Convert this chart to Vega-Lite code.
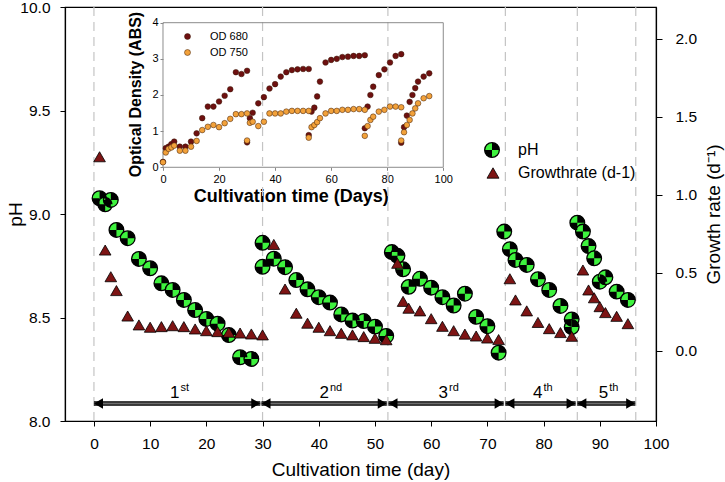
{
  "$schema": "https://vega.github.io/schema/vega-lite/v6.json",
  "width": 591,
  "height": 414,
  "autosize": "none",
  "padding": {"left": 65, "top": 7, "right": 69, "bottom": 61},
  "background": "white",
  "config": {
    "font": "Liberation Sans",
    "view": {"stroke": "#000", "strokeWidth": 1.2},
    "axis": {"grid": false, "domainColor": "#000", "tickColor": "#000", "labelColor": "#000", "titleColor": "#000", "labelFont": "Liberation Sans", "titleFont": "Liberation Sans", "titleFontWeight": "normal", "labelFlush": false, "labelOverlap": false},
    "legend": {"labelFont": "Liberation Sans", "labelColor": "#000", "padding": 0}
  },
  "datasets": {
    "vlines": [{"day": 0}, {"day": 30}, {"day": 52.3}, {"day": 73.2}, {"day": 86}, {"day": 96.4}],
    "arrows": [{"start": 0, "end": 29.6}, {"start": 29.8, "end": 52.1}, {"start": 52.4, "end": 72.9}, {"start": 73.2, "end": 85.7}, {"start": 86, "end": 96.3}],
    "labels": [{"x": 15.2, "n": "1", "sup": "st"}, {"x": 41.8, "n": "2", "sup": "nd"}, {"x": 63, "n": "3", "sup": "rd"}, {"x": 79.8, "n": "4", "sup": "th"}, {"x": 91.5, "n": "5", "sup": "th"}],
    "ph": [
      {"day": 1, "ph": 9.076}, {"day": 2, "ph": 9.047}, {"day": 3, "ph": 9.068}, {"day": 4, "ph": 8.923}, {"day": 6, "ph": 8.883}, {"day": 8, "ph": 8.783}, {"day": 10, "ph": 8.738}, {"day": 12, "ph": 8.665}, {"day": 14, "ph": 8.633}, {"day": 16, "ph": 8.585}, {"day": 18, "ph": 8.536}, {"day": 20, "ph": 8.493}, {"day": 22, "ph": 8.47}, {"day": 24, "ph": 8.415}, {"day": 26, "ph": 8.308}, {"day": 28, "ph": 8.3},
      {"day": 30, "ph": 8.861}, {"day": 30, "ph": 8.745}, {"day": 32, "ph": 8.784}, {"day": 34, "ph": 8.743}, {"day": 36, "ph": 8.681}, {"day": 38, "ph": 8.636}, {"day": 40, "ph": 8.598}, {"day": 42, "ph": 8.572}, {"day": 44, "ph": 8.515}, {"day": 46, "ph": 8.485}, {"day": 48, "ph": 8.483}, {"day": 50, "ph": 8.456}, {"day": 52, "ph": 8.411},
      {"day": 53, "ph": 8.816}, {"day": 54, "ph": 8.798}, {"day": 55, "ph": 8.733}, {"day": 56, "ph": 8.648}, {"day": 58, "ph": 8.687}, {"day": 60, "ph": 8.644}, {"day": 62, "ph": 8.598}, {"day": 64, "ph": 8.558}, {"day": 66, "ph": 8.615}, {"day": 68, "ph": 8.503}, {"day": 70, "ph": 8.458}, {"day": 72, "ph": 8.33},
      {"day": 73, "ph": 8.915}, {"day": 74, "ph": 8.83}, {"day": 75, "ph": 8.778}, {"day": 77, "ph": 8.754}, {"day": 79, "ph": 8.685}, {"day": 81, "ph": 8.633}, {"day": 83, "ph": 8.556}, {"day": 85, "ph": 8.491}, {"day": 85, "ph": 8.454},
      {"day": 86, "ph": 8.958}, {"day": 87, "ph": 8.915}, {"day": 88, "ph": 8.845}, {"day": 89, "ph": 8.786}, {"day": 90, "ph": 8.673}, {"day": 91, "ph": 8.694}, {"day": 93, "ph": 8.625}, {"day": 95, "ph": 8.585}
    ],
    "growth": [
      {"day": 1, "g": 1.245}, {"day": 2, "g": 0.647}, {"day": 3, "g": 0.476}, {"day": 4, "g": 0.387}, {"day": 6, "g": 0.224}, {"day": 8, "g": 0.167}, {"day": 10, "g": 0.152}, {"day": 12, "g": 0.156}, {"day": 14, "g": 0.162}, {"day": 16, "g": 0.156}, {"day": 18, "g": 0.141}, {"day": 20, "g": 0.13}, {"day": 22, "g": 0.124}, {"day": 24, "g": 0.12}, {"day": 26, "g": 0.115}, {"day": 28, "g": 0.109}, {"day": 30, "g": 0.103},
      {"day": 32, "g": 0.683}, {"day": 34, "g": 0.397}, {"day": 36, "g": 0.242}, {"day": 38, "g": 0.178}, {"day": 40, "g": 0.152}, {"day": 42, "g": 0.13}, {"day": 44, "g": 0.113}, {"day": 46, "g": 0.103}, {"day": 48, "g": 0.092}, {"day": 50, "g": 0.081}, {"day": 52, "g": 0.072},
      {"day": 54, "g": 0.562}, {"day": 55, "g": 0.318}, {"day": 56, "g": 0.274}, {"day": 58, "g": 0.257}, {"day": 60, "g": 0.207}, {"day": 62, "g": 0.158}, {"day": 64, "g": 0.13}, {"day": 66, "g": 0.108}, {"day": 68, "g": 0.096}, {"day": 70, "g": 0.083}, {"day": 72, "g": 0.073},
      {"day": 74, "g": 0.463}, {"day": 75, "g": 0.327}, {"day": 77, "g": 0.257}, {"day": 79, "g": 0.183}, {"day": 81, "g": 0.143}, {"day": 83, "g": 0.118}, {"day": 85, "g": 0.094},
      {"day": 87, "g": 0.519}, {"day": 88, "g": 0.391}, {"day": 89, "g": 0.341}, {"day": 90, "g": 0.284}, {"day": 91, "g": 0.246}, {"day": 93, "g": 0.222}, {"day": 95, "g": 0.175}
    ],
    "od": [
      {"day": 0, "od": 0.15, "s": "OD 680"}, {"day": 1, "od": 0.53, "s": "OD 680"}, {"day": 2, "od": 0.57, "s": "OD 680"}, {"day": 3, "od": 0.64, "s": "OD 680"}, {"day": 4, "od": 0.71, "s": "OD 680"}, {"day": 6, "od": 0.57, "s": "OD 680"}, {"day": 8, "od": 0.57, "s": "OD 680"}, {"day": 10, "od": 0.71, "s": "OD 680"}, {"day": 12, "od": 0.94, "s": "OD 680"}, {"day": 14, "od": 1.36, "s": "OD 680"}, {"day": 16, "od": 1.68, "s": "OD 680"}, {"day": 18, "od": 1.68, "s": "OD 680"}, {"day": 20, "od": 1.82, "s": "OD 680"}, {"day": 22, "od": 1.98, "s": "OD 680"}, {"day": 24, "od": 2.16, "s": "OD 680"}, {"day": 26, "od": 2.63, "s": "OD 680"}, {"day": 28, "od": 2.58, "s": "OD 680"}, {"day": 30, "od": 2.67, "s": "OD 680"},
      {"day": 30, "od": 0.69, "s": "OD 680"}, {"day": 31, "od": 1.36, "s": "OD 680"}, {"day": 32, "od": 1.51, "s": "OD 680"}, {"day": 34, "od": 1.77, "s": "OD 680"}, {"day": 36, "od": 1.94, "s": "OD 680"}, {"day": 38, "od": 2.18, "s": "OD 680"}, {"day": 40, "od": 2.3, "s": "OD 680"}, {"day": 42, "od": 2.51, "s": "OD 680"}, {"day": 44, "od": 2.63, "s": "OD 680"}, {"day": 46, "od": 2.69, "s": "OD 680"}, {"day": 48, "od": 2.71, "s": "OD 680"}, {"day": 50, "od": 2.72, "s": "OD 680"}, {"day": 52, "od": 2.72, "s": "OD 680"},
      {"day": 52, "od": 0.89, "s": "OD 680"}, {"day": 53, "od": 1.54, "s": "OD 680"}, {"day": 54, "od": 1.65, "s": "OD 680"}, {"day": 55, "od": 1.96, "s": "OD 680"}, {"day": 56, "od": 2.37, "s": "OD 680"}, {"day": 58, "od": 2.9, "s": "OD 680"}, {"day": 60, "od": 2.97, "s": "OD 680"}, {"day": 62, "od": 3.0, "s": "OD 680"}, {"day": 64, "od": 3.05, "s": "OD 680"}, {"day": 66, "od": 3.06, "s": "OD 680"}, {"day": 68, "od": 3.08, "s": "OD 680"}, {"day": 70, "od": 3.08, "s": "OD 680"}, {"day": 72, "od": 3.1, "s": "OD 680"},
      {"day": 72, "od": 1.08, "s": "OD 680"}, {"day": 73, "od": 1.68, "s": "OD 680"}, {"day": 74, "od": 2.0, "s": "OD 680"}, {"day": 75, "od": 2.23, "s": "OD 680"}, {"day": 77, "od": 2.55, "s": "OD 680"}, {"day": 79, "od": 2.71, "s": "OD 680"}, {"day": 81, "od": 2.9, "s": "OD 680"}, {"day": 83, "od": 3.08, "s": "OD 680"}, {"day": 85, "od": 3.13, "s": "OD 680"},
      {"day": 85, "od": 0.68, "s": "OD 680"}, {"day": 86, "od": 1.11, "s": "OD 680"}, {"day": 87, "od": 1.43, "s": "OD 680"}, {"day": 88, "od": 1.81, "s": "OD 680"}, {"day": 89, "od": 2.0, "s": "OD 680"}, {"day": 90, "od": 2.19, "s": "OD 680"}, {"day": 91, "od": 2.37, "s": "OD 680"}, {"day": 93, "od": 2.51, "s": "OD 680"}, {"day": 95, "od": 2.6, "s": "OD 680"},
      {"day": 0, "od": 0.14, "s": "OD 750"}, {"day": 1, "od": 0.41, "s": "OD 750"}, {"day": 2, "od": 0.51, "s": "OD 750"}, {"day": 3, "od": 0.55, "s": "OD 750"}, {"day": 4, "od": 0.6, "s": "OD 750"}, {"day": 6, "od": 0.46, "s": "OD 750"}, {"day": 8, "od": 0.46, "s": "OD 750"}, {"day": 10, "od": 0.57, "s": "OD 750"}, {"day": 12, "od": 0.73, "s": "OD 750"}, {"day": 14, "od": 1.03, "s": "OD 750"}, {"day": 16, "od": 1.12, "s": "OD 750"}, {"day": 18, "od": 1.17, "s": "OD 750"}, {"day": 20, "od": 1.11, "s": "OD 750"}, {"day": 22, "od": 1.22, "s": "OD 750"}, {"day": 24, "od": 1.34, "s": "OD 750"}, {"day": 26, "od": 1.47, "s": "OD 750"}, {"day": 28, "od": 1.47, "s": "OD 750"}, {"day": 30, "od": 1.49, "s": "OD 750"},
      {"day": 30, "od": 0.74, "s": "OD 750"}, {"day": 31, "od": 1.23, "s": "OD 750"}, {"day": 32, "od": 1.26, "s": "OD 750"}, {"day": 34, "od": 1.14, "s": "OD 750"}, {"day": 36, "od": 1.26, "s": "OD 750"}, {"day": 38, "od": 1.49, "s": "OD 750"}, {"day": 40, "od": 1.49, "s": "OD 750"}, {"day": 42, "od": 1.49, "s": "OD 750"}, {"day": 44, "od": 1.54, "s": "OD 750"}, {"day": 46, "od": 1.56, "s": "OD 750"}, {"day": 48, "od": 1.56, "s": "OD 750"}, {"day": 50, "od": 1.56, "s": "OD 750"}, {"day": 52, "od": 1.56, "s": "OD 750"},
      {"day": 52, "od": 0.82, "s": "OD 750"}, {"day": 53, "od": 1.11, "s": "OD 750"}, {"day": 54, "od": 1.17, "s": "OD 750"}, {"day": 55, "od": 1.25, "s": "OD 750"}, {"day": 56, "od": 1.36, "s": "OD 750"}, {"day": 58, "od": 1.49, "s": "OD 750"}, {"day": 60, "od": 1.56, "s": "OD 750"}, {"day": 62, "od": 1.56, "s": "OD 750"}, {"day": 64, "od": 1.59, "s": "OD 750"}, {"day": 66, "od": 1.59, "s": "OD 750"}, {"day": 68, "od": 1.61, "s": "OD 750"}, {"day": 70, "od": 1.61, "s": "OD 750"}, {"day": 72, "od": 1.59, "s": "OD 750"},
      {"day": 72, "od": 0.87, "s": "OD 750"}, {"day": 73, "od": 1.14, "s": "OD 750"}, {"day": 74, "od": 1.31, "s": "OD 750"}, {"day": 75, "od": 1.4, "s": "OD 750"}, {"day": 77, "od": 1.54, "s": "OD 750"}, {"day": 79, "od": 1.59, "s": "OD 750"}, {"day": 81, "od": 1.68, "s": "OD 750"}, {"day": 83, "od": 1.68, "s": "OD 750"}, {"day": 85, "od": 1.66, "s": "OD 750"},
      {"day": 85, "od": 0.74, "s": "OD 750"}, {"day": 86, "od": 0.97, "s": "OD 750"}, {"day": 87, "od": 1.17, "s": "OD 750"}, {"day": 88, "od": 1.31, "s": "OD 750"}, {"day": 89, "od": 1.49, "s": "OD 750"}, {"day": 90, "od": 1.63, "s": "OD 750"}, {"day": 91, "od": 1.77, "s": "OD 750"}, {"day": 93, "od": 1.91, "s": "OD 750"}, {"day": 95, "od": 1.97, "s": "OD 750"}
    ]
  },
  "resolve": {
    "scale": {"x": "independent", "y": "independent", "fill": "independent", "shape": "independent"},
    "axis": {"x": "independent", "y": "independent"},
    "legend": {"fill": "independent", "shape": "independent"}
  },
  "layer": [
    {
      "data": {"name": "vlines"},
      "mark": {"type": "rule", "stroke": "#c4c4c4", "strokeDash": [9, 6], "strokeWidth": 1.2},
      "encoding": {
        "x": {"field": "day", "type": "quantitative", "scale": {"domain": [-5.15, 100], "nice": false, "zero": false},
          "axis": {"orient": "bottom", "values": [0, 10, 20, 30, 40, 50, 60, 70, 80, 90, 100], "tickSize": 5, "labelFontSize": 15.5, "labelPadding": 10, "domainWidth": 1.2, "title": "Cultivation time (day)", "titleFontSize": 19, "titleY": 48, "titleBaseline": "middle"}}
      }
    },
    {
      "data": {"name": "arrows"},
      "mark": {"type": "rule", "stroke": "#000", "strokeWidth": 4.5},
      "encoding": {
        "x": {"field": "start", "type": "quantitative", "scale": {"domain": [-5.15, 100], "nice": false, "zero": false}, "axis": null},
        "x2": {"field": "end"},
        "y": {"datum": 8.085, "type": "quantitative", "scale": {"domain": [8, 10], "nice": false, "zero": false}, "axis": null}
      }
    },
    {
      "data": {"name": "arrows"},
      "mark": {"type": "rule", "stroke": "#6e6e6e", "strokeWidth": 2},
      "encoding": {
        "x": {"field": "start", "type": "quantitative", "scale": {"domain": [-5.15, 100], "nice": false, "zero": false}, "axis": null},
        "x2": {"field": "end"},
        "y": {"datum": 8.085, "type": "quantitative", "scale": {"domain": [8, 10], "nice": false, "zero": false}, "axis": null}
      }
    },
    {
      "data": {"name": "arrows"},
      "mark": {"type": "point", "shape": "triangle-left", "filled": true, "fill": "#000", "opacity": 1, "size": 110, "xOffset": 4.5},
      "encoding": {
        "x": {"field": "start", "type": "quantitative", "scale": {"domain": [-5.15, 100], "nice": false, "zero": false}, "axis": null},
        "y": {"datum": 8.085, "type": "quantitative", "scale": {"domain": [8, 10], "nice": false, "zero": false}, "axis": null}
      }
    },
    {
      "data": {"name": "arrows"},
      "mark": {"type": "point", "shape": "triangle-right", "filled": true, "fill": "#000", "opacity": 1, "size": 110, "xOffset": -4.5},
      "encoding": {
        "x": {"field": "end", "type": "quantitative", "scale": {"domain": [-5.15, 100], "nice": false, "zero": false}, "axis": null},
        "y": {"datum": 8.085, "type": "quantitative", "scale": {"domain": [8, 10], "nice": false, "zero": false}, "axis": null}
      }
    },
    {
      "data": {"name": "labels"},
      "mark": {"type": "text", "align": "right", "baseline": "alphabetic", "fontSize": 17, "color": "#000"},
      "encoding": {
        "x": {"field": "x", "type": "quantitative", "scale": {"domain": [-5.15, 100], "nice": false, "zero": false}, "axis": null},
        "y": {"datum": 8.11, "type": "quantitative", "scale": {"domain": [8, 10], "nice": false, "zero": false}, "axis": null},
        "text": {"field": "n"}
      }
    },
    {
      "data": {"name": "labels"},
      "mark": {"type": "text", "align": "left", "baseline": "alphabetic", "fontSize": 11, "dx": 1, "dy": -7, "color": "#000"},
      "encoding": {
        "x": {"field": "x", "type": "quantitative", "scale": {"domain": [-5.15, 100], "nice": false, "zero": false}, "axis": null},
        "y": {"datum": 8.11, "type": "quantitative", "scale": {"domain": [8, 10], "nice": false, "zero": false}, "axis": null},
        "text": {"field": "sup"}
      }
    },
    {
      "data": {"name": "ph"},
      "mark": {"type": "point", "shape": "circle", "filled": true, "size": 215, "stroke": "#000", "strokeWidth": 1.3, "opacity": 1},
      "encoding": {
        "x": {"field": "day", "type": "quantitative", "scale": {"domain": [-5.15, 100], "nice": false, "zero": false}, "axis": null},
        "y": {"field": "ph", "type": "quantitative", "scale": {"domain": [8, 10], "nice": false, "zero": false},
          "axis": {"orient": "left", "values": [8, 8.5, 9, 9.5, 10], "format": ".1f", "tickSize": 5, "labelFontSize": 15.5, "labelPadding": 10, "domainWidth": 1.2, "title": "pH", "titleFontSize": 19, "titleX": -50, "titleBaseline": "middle"}},
        "fill": {"datum": "pH", "scale": {"range": ["#3ef23e"]},
          "legend": {"orient": "none", "legendX": 419, "legendY": 135, "title": null, "symbolType": "circle", "symbolSize": 215, "symbolStrokeColor": "#000", "symbolStrokeWidth": 1.3, "symbolOpacity": 1, "labelFontSize": 16, "labelOffset": 18}}
      }
    },
    {
      "data": {"name": "ph"},
      "mark": {"type": "point", "filled": true, "fill": "#000", "size": 215, "strokeWidth": 0, "opacity": 1},
      "encoding": {
        "x": {"field": "day", "type": "quantitative", "scale": {"domain": [-5.15, 100], "nice": false, "zero": false}, "axis": null},
        "y": {"field": "ph", "type": "quantitative", "scale": {"domain": [8, 10], "nice": false, "zero": false}, "axis": null},
        "shape": {"datum": "pH", "scale": {"range": ["M0,0L0,-1A1,1,0,0,1,1,0ZM0,0L0,1A1,1,0,0,1,-1,0Z"]},
          "legend": {"orient": "none", "legendX": 419, "legendY": 135, "title": null, "symbolSize": 215, "symbolFillColor": "#000", "symbolStrokeWidth": 0, "symbolOpacity": 1, "labelFontSize": 16, "labelOffset": 18, "labelExpr": "''"}}
      }
    },
    {
      "data": {"name": "growth"},
      "mark": {"type": "point", "shape": "triangle-up", "filled": true, "size": 135, "stroke": "#000", "strokeWidth": 0.8, "opacity": 1},
      "encoding": {
        "x": {"field": "day", "type": "quantitative", "scale": {"domain": [-5.15, 100], "nice": false, "zero": false}, "axis": null},
        "y": {"field": "g", "type": "quantitative", "scale": {"domain": [-0.449, 2.205], "nice": false, "zero": false},
          "axis": {"orient": "right", "values": [0, 0.5, 1, 1.5, 2], "format": ".1f", "tickSize": 6, "labelFontSize": 15.5, "labelPadding": 13, "domainWidth": 1.2, "title": "Growth rate (d⁻¹)", "titleFontSize": 19, "titleAngle": -90, "titleX": 57, "titleBaseline": "middle"}},
        "fill": {"datum": "Growthrate (d-1)", "scale": {"range": ["#7d1414"]},
          "legend": {"orient": "none", "legendX": 420, "legendY": 158, "title": null, "symbolType": "triangle-up", "symbolSize": 144, "symbolStrokeColor": "#000", "symbolStrokeWidth": 0.8, "symbolOpacity": 1, "labelFontSize": 16, "labelOffset": 17}}
      }
    },
    {
      "data": {"values": [{}]},
      "mark": {"type": "rect", "fill": null, "stroke": "#8c8c8c", "strokeWidth": 1},
      "encoding": {
        "x": {"datum": 0, "type": "quantitative", "scale": {"domain": [-34.96, 175.9], "nice": false, "zero": false}, "axis": null},
        "x2": {"datum": 100},
        "y": {"datum": 0, "type": "quantitative", "scale": {"domain": [-7.018, 4.434], "nice": false, "zero": false}, "axis": null},
        "y2": {"datum": 4}
      }
    },
    {
      "data": {"name": "od"},
      "mark": {"type": "point", "shape": "circle", "filled": true, "size": 32, "stroke": "#3a1a08", "strokeWidth": 0.5, "opacity": 1},
      "encoding": {
        "x": {"field": "day", "type": "quantitative", "scale": {"domain": [-34.96, 175.9], "nice": false, "zero": false},
          "axis": {"orient": "bottom", "offset": -253.7, "values": [0, 20, 40, 60, 80, 100], "domain": false, "tickSize": 3, "tickColor": "#888", "labelFontSize": 11, "labelPadding": 3, "title": "Cultivation time (Days)", "titleFontSize": 18, "titleFontWeight": "bold", "titleX": 225.7, "titleY": 29.4, "titleBaseline": "middle"}},
        "y": {"field": "od", "type": "quantitative", "scale": {"domain": [-7.018, 4.434], "nice": false, "zero": false},
          "axis": {"orient": "left", "offset": -98, "values": [0, 1, 2, 3, 4], "domain": false, "tickSize": 3, "tickColor": "#888", "labelFontSize": 11, "labelPadding": 2, "title": "Optical Density (ABS)", "titleFontSize": 16, "titleFontWeight": "bold", "titleX": -28, "titleY": 87, "titleBaseline": "middle"}},
        "fill": {"field": "s", "type": "nominal", "sort": null, "scale": {"domain": ["OD 680", "OD 750"], "range": ["#6e1010", "#f2a13a"]},
          "legend": {"orient": "none", "legendX": 117, "legendY": 24, "title": null, "symbolType": "circle", "symbolSize": 36, "symbolStrokeColor": "#3a1a08", "symbolStrokeWidth": 0.5, "symbolOpacity": 1, "labelFontSize": 11, "labelOffset": 17, "rowPadding": 4}}
      }
    }
  ]
}
